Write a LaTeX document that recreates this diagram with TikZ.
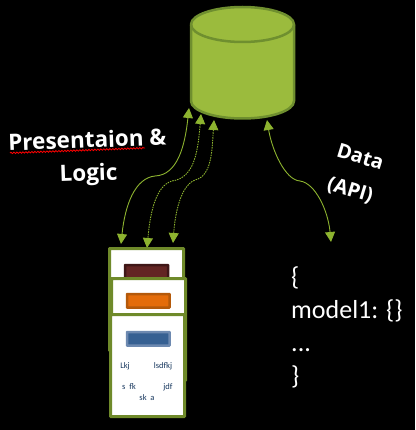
\documentclass[tikz,border=0pt]{standalone}
\usepackage{fontspec}
\setmainfont{Open Sans}
\newfontfamily\listfont{Carlito}
\usetikzlibrary{arrows.meta,decorations.pathmorphing}
\definecolor{dbgreen}{HTML}{9BBB3D}
\definecolor{dbedge}{HTML}{6F8F2F}
\definecolor{cardedge}{HTML}{6F8A2A}
\definecolor{linkgreen}{HTML}{8DB32F}
\definecolor{redfill}{HTML}{632523}
\definecolor{rededge}{HTML}{3F1717}
\definecolor{orangefill}{HTML}{E46C0A}
\definecolor{orangeedge}{HTML}{B4590A}
\definecolor{bluefill}{HTML}{366092}
\definecolor{blueedge}{HTML}{6D89B0}
\definecolor{wordblue}{HTML}{17375E}
\tikzset{
	card/.style={fill=white, draw=cardedge, line width=3pt, rounded corners=0.5pt, anchor=north west, minimum width=74pt, minimum height=102pt, inner sep=0pt, outer sep=0pt},
	btn/.style={line width=2.5pt, rounded corners=0.5pt, anchor=north west, minimum width=42.5pt, minimum height=13.5pt, inner sep=0pt, outer sep=0pt},
	link/.style={draw=linkgreen, line width=0.9pt, {Triangle[width=10pt,length=10pt]}-{Triangle[width=10pt,length=10pt]}},
	dotlink/.style={link, dash pattern=on 1.5pt off 1pt},
	small/.style={text=wordblue, font=\listfont\fontsize{8.5}{9}\selectfont, inner sep=0pt},
	label/.style={text=white, align=center, inner sep=0pt, font=\bfseries\fontsize{22.5}{33}\selectfont}
}
\begin{document}
\begin{tikzpicture}[x=1pt,y=-1pt]
	\fill[black] (0,0) rectangle (415,430);
	\useasboundingbox (0,0) rectangle (415,430);
	% database
	\filldraw[fill=dbgreen, draw=dbedge, line width=2.5pt] (191,24.5) -- (191,101) arc[start angle=180, end angle=360, x radius=51.5pt, y radius=17.5pt] -- (294,24.5) arc[start angle=0, end angle=180, x radius=51.5pt, y radius=17.5pt] -- cycle;
	\draw[dbedge, line width=2.5pt] (191,24.5) arc[start angle=180, end angle=360, x radius=51.5pt, y radius=17.5pt];
	% ends of the links
	\coordinate (dbA) at (189,108);
	\coordinate (dbB) at (201,114);
	\coordinate (dbC) at (214,120);
	\coordinate (dbD) at (267,120);
	\coordinate (cardA) at (121,244);
	\coordinate (cardB) at (147,248);
	\coordinate (cardC) at (173,243);
	\coordinate (modelend) at (331,242);
	\draw[link] (dbA) .. controls (185,145) and (178,175) .. (155,176) .. controls (135,178) and (125,205) .. (cardA);
	\draw[dotlink] (dbB) .. controls (198,150) and (195,178) .. (172,181) .. controls (155,186) and (150,215) .. (cardB);
	\draw[dotlink] (dbC) .. controls (212,150) and (212,176) .. (195,180) .. controls (180,186) and (175,215) .. (cardC);
	\draw[link] (dbD) .. controls (272,150) and (285,180) .. (300,181) .. controls (315,183) and (328,210) .. (modelend);
	% cards
	\node[card] (backcard) at (109.5,248.5) {};
	\node[btn, fill=redfill, draw=rededge, minimum width=43pt] (redbtn) at (125,265) {};
	\node[card] (midcard) at (111.5,278.5) {};
	\node[btn, fill=orangefill, draw=orangeedge] (orangebtn) at (127,294) {};
	\node[card] (frontcard) at (110.5,314.5) {};
	\node[btn, fill=bluefill, draw=blueedge] (bluebtn) at (127,332) {};
	\foreach \x/\y/\t in {125/366/Lkj, 163/366/lsdfkj, 129/387/{s\ \ fk}, 168/387/jdf, 147/398/{sk\ \ a}} {
		\node[small] (word\x\y) at (\x,\y) {\t};
	}
	% labels
	\draw[red, line width=0.8pt, decorate, decoration={snake, amplitude=0.7pt, segment length=3pt}] (10,153) -- (145,148);
	\node[label, rotate=2] (title) at (88,158.5) {Presentaion \&\\Logic};
	\node[label, rotate=-17, font=\bfseries\fontsize{20}{34}\selectfont] (datalabel) at (355,174.5) {Data\\(API)};
	\node[text=white, align=left, anchor=north west, inner sep=0pt, font=\listfont\fontsize{26}{33}\selectfont] (modeltext) at (291,266.5) {\{\\model1: \{\}\\...\\\}};
\end{tikzpicture}
\end{document}
